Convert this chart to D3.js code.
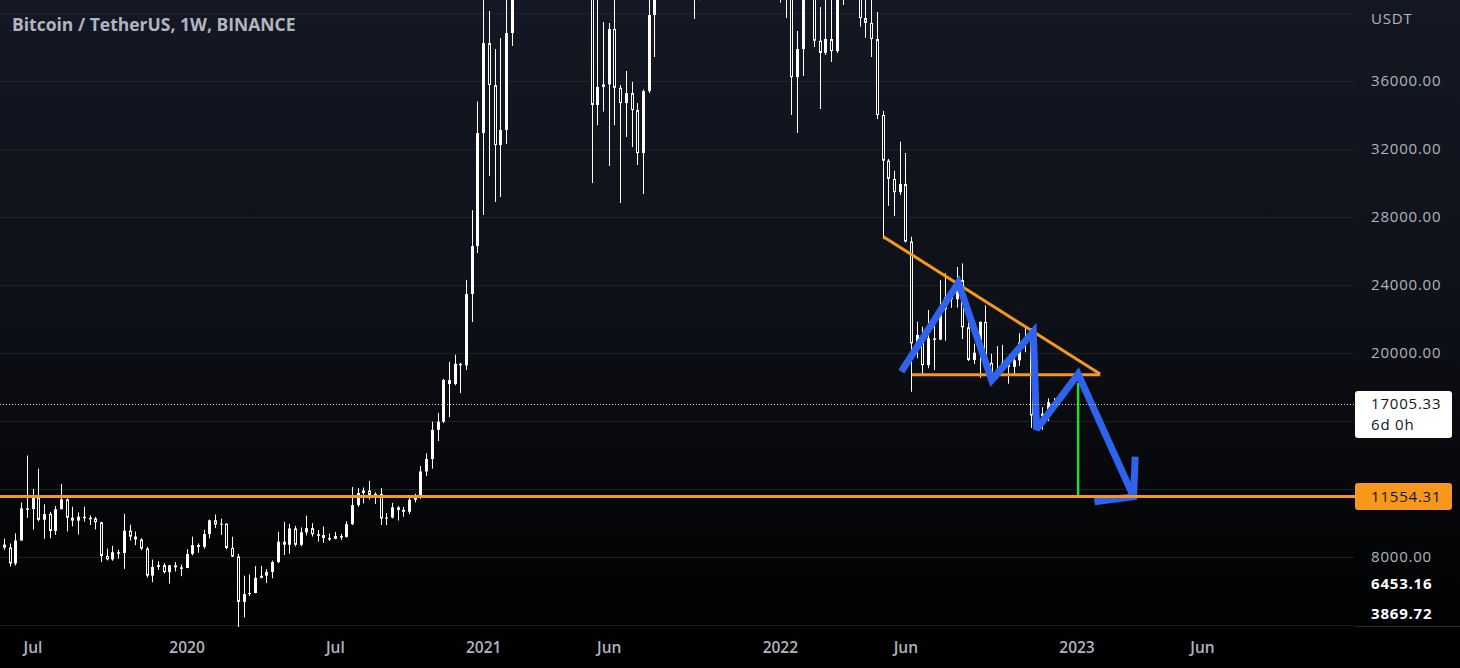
<!DOCTYPE html>
<html><head><meta charset="utf-8">
<script src="https://cdn.jsdelivr.net/npm/d3@7"></script>
<style>html,body{margin:0;padding:0;background:#000;overflow:hidden} svg{display:block}</style>
</head><body><svg id="c" width="1460" height="668"></svg>
<script>
// ---------- DATA ----------
const firstWeek = "2019-05-27";   // weekly candles, Monday open (BINANCE BTCUSDT, 1W)
const opens = [8725,8555,7620,8970,10860,10820,11480,10190,10530,9530,10810,11390,10310,10140,10370,10310,10270,10040,8060,7860,8280,8230,9550,9200,9030,8500,6900,7420,7520,7110,7510,7390,
7350,8180,8700,8600,9350,10160,9910,9960,8530,8030,5360,5820,5880,6780,6900,7120,7700,8900,8720,9680,8720,9450,9700,9340,9290,9120,9070,9230,9170,9930,11050,11760,11910,11650,11710,10260,10320,10920,10770,10660,11370,11500,13030,13760,15480,15960,18410,18180,19360,19270,23470,26290,
32940,38230,35760,32230,33120,38820,48580,57400,45140,50970,59030,57350,55780,58200,59770,56200,49070,57800,58240,46430,34590,35650,35800,39060,35600,34700,35290,34290,31760,35400,39880,43800,47080,49300,48830,51760,46060,47260,43170,48200,54960,61530,60860,61300,63270,65460,58620,57270,49400,50100,46680,50780,
47290,41860,43080,36230,37880,42400,42200,38370,37650,38470,37760,42230,46820,46400,42150,39700,39420,38470,34000,31310,30240,29460,29940,26560,20570,21060,19290,20860,20790,22570,23280,23160,24290,21510,19590,20020,21830,19420,18800,19060,19430,19180,19570,20620,20900,16330,16280,16430,17100];
const highs = [9074,8800,9390,11200,13970,12000,13200,11100,10650,11000,12300,11450,10950,10620,10950,10450,10360,10070,8500,8660,8420,10540,9900,9500,9100,8600,7850,7750,7640,7520,7700,7550,
8460,9200,8800,9600,10200,10500,10250,9970,9190,8180,6900,6970,7460,7470,7290,7790,9480,10070,9950,9830,9740,10430,9990,9590,9800,9380,9470,9350,10100,12120,12050,12090,12470,11800,12050,10580,11180,10990,10950,11490,11720,13350,14100,15960,16480,18480,19480,19900,19420,24300,28400,34800,
41950,40120,37880,38530,40950,49000,58350,57530,52640,61780,61800,58420,60200,61500,64850,57000,58450,59500,59600,46700,40900,39470,39410,41300,35760,36590,35950,34700,35500,42600,45300,47150,49500,50500,52900,52920,48850,48300,49000,56560,62000,67000,63700,64270,69000,66340,59400,59100,51950,50500,52090,52100,
47570,44500,43500,38940,42600,45850,44750,40350,45400,42600,42300,47440,48200,47200,42400,42980,40800,40060,34240,31420,30720,32430,31760,26840,21840,21550,22530,21760,24290,24690,23650,25060,25270,21840,20550,21860,22800,19960,20410,20480,19520,19700,21160,21450,21470,17190,16810,17330,17350];
const lows = [8430,7444,7500,8970,10300,9614,10100,9070,9100,9300,10800,9500,9800,9320,10080,9880,9620,7710,7800,7780,7900,7300,8970,8700,8400,6790,6515,7240,7030,6440,7150,6870,
7350,8100,8250,8500,9100,9700,9300,8450,8000,3782,4440,5700,5860,6750,6470,6750,7630,8120,8200,8630,8630,9270,9200,8900,8830,8940,9050,9000,9150,9880,10950,11150,11380,11120,9880,9880,10270,10140,10370,10530,11210,11420,12760,13200,14820,15880,16230,18100,17640,19000,21820,25880,
28120,30410,28880,29180,32300,38060,47000,43000,44950,49200,53000,50310,55450,55470,51500,47000,48750,53000,43800,30000,33400,34200,31000,33400,28820,32710,32120,31060,29350,35290,37410,42800,43950,46300,46500,42800,43370,39650,40750,47100,53880,59500,57800,59400,62300,55600,53250,42000,46800,45500,45560,45670,
40600,39700,34000,32940,36290,41600,38000,34350,37530,37120,37650,40470,44200,42100,39200,38550,37410,33760,26700,28650,28060,29290,26500,17720,19690,18700,19100,19000,20760,20720,22660,22670,20820,19530,19350,18540,19320,18130,18470,18960,18190,18650,19240,20050,15590,15815,15480,16000,16900];
const closes = [8555,7620,8970,10860,10820,11480,10190,10530,9530,10810,11390,10310,10140,10370,10310,10270,10040,8060,7860,8280,8230,9550,9200,9030,8500,6900,7420,7520,7110,7510,7390,7350,
8180,8700,8600,9350,10160,9910,9960,8530,8030,5360,5820,5880,6780,6900,7120,7700,8900,8720,9680,8720,9450,9700,9340,9290,9120,9070,9230,9170,9930,11050,11760,11910,11650,11710,10260,10320,10920,10770,10660,11370,11500,13030,13760,15480,15960,18410,18180,19360,19270,23470,26290,32940,
38230,35760,32230,33120,38820,48580,57400,45140,50970,59030,57350,55780,58200,59770,56200,49070,57800,58240,46430,34590,35650,35800,39060,35600,34700,35290,34290,31760,35400,39880,43800,47080,49300,48830,51760,46060,47260,43170,48200,54960,61530,60860,61300,63270,65460,58620,57270,49400,50100,46680,50780,47290,
41860,43080,36230,37880,42400,42200,38370,37650,38470,37760,42230,46820,46400,42150,39700,39420,38470,34000,31310,30240,29460,29940,26560,20570,21060,19290,20860,20790,22570,23280,23160,24290,21510,19590,20020,21830,19420,18800,19060,19430,19180,19570,20620,20900,16330,16280,16430,17100,17005.33];

const priceTicks = [36000, 32000, 28000, 24000, 20000, 8000];
const gridPrices = [4000, 8000, 12000, 16000, 20000, 24000, 28000, 32000, 36000, 40000];
const timeTickDates = ["2019-07-01","2020-01-06","2020-07-06","2021-01-04","2021-06-07","2022-01-03","2022-06-06","2023-01-02","2023-06-05"];
const timeTickLabels = ["Jul","2020","Jul","2021","Jun","2022","Jun","2023","Jun"];
const lastPrice = 17005.33;
const countdown = "6d 0h";
const supportLevel = 11554.31;
const rangeLabels = [6453.16, 3869.72];
const title = "Bitcoin / TetherUS, 1W, BINANCE";
const currency = "USDT";
// drawings
const trendDates = ["2022-05-10","2023-01-31"], trendPrices = [26840, 18760];
const baseDates = ["2022-06-14","2023-01-31"], basePrices = [18720, 18720];
const zigDates = ["2022-06-01","2022-08-10","2022-09-20","2022-11-10","2022-11-14","2023-01-04","2023-03-13"];
const zigPrices = [18900, 24135, 18410, 21250, 15510, 18760, 11550];
const arrowDates = ["2023-03-15","2023-03-13","2023-01-24"];
const arrowPrices = [13900, 11550, 11250];
const targetDates = ["2023-01-04","2023-01-04"], targetPrices = [18235, supportLevel];

// ---------- CHART ----------
const W = 1460, H = 668, plotR = 1354, plotB = 627;
const svg = d3.select("#c");
const P = s => new Date(s + "T00:00:00Z");
const weeks = opens.map((_, i) => d3.utcMonday.offset(P(firstWeek), i));
const x = d3.scaleUtc().domain([P("2019-05-27"), P("2023-01-02")]).range([4, 1076.5]);
const y = d3.scaleLinear().domain([0, 40000]).range([693, 13]);

const defs = svg.append("defs");
const g = defs.append("linearGradient").attr("id","bg").attr("x1",0).attr("y1",0).attr("x2",0).attr("y2",1);
g.append("stop").attr("offset","0%").attr("stop-color","#141824");
g.append("stop").attr("offset","45%").attr("stop-color","#0e1118");
g.append("stop").attr("offset","80%").attr("stop-color","#040507");
g.append("stop").attr("offset","100%").attr("stop-color","#000000");
defs.append("clipPath").attr("id","plot").append("rect").attr("x",0).attr("y",0).attr("width",plotR).attr("height",plotB);

svg.append("rect").attr("width",W).attr("height",H).attr("fill","url(#bg)");

// grid
svg.append("g").selectAll("line").data(gridPrices).join("line")
  .attr("x1",0).attr("x2",plotR).attr("y1",d=>Math.round(y(d))+0.5).attr("y2",d=>Math.round(y(d))+0.5)
  .attr("stroke","#262a36").attr("stroke-width",1).attr("stroke-opacity",0.7);

const plot = svg.append("g").attr("clip-path","url(#plot)");

// candles
const cg = plot.append("g");
opens.forEach((o, i) => {
  const c = closes[i], hi = highs[i], lo = lows[i];
  const cx = Math.round(x(weeks[i]));
  cg.append("line").attr("x1",cx+0.5).attr("x2",cx+0.5).attr("y1",y(hi)).attr("y2",y(lo))
    .attr("stroke","#ffffff").attr("stroke-width",1);
  const top = y(Math.max(o,c)), bot = y(Math.min(o,c));
  if (c >= o) {
    cg.append("rect").attr("x",cx-1).attr("y",top).attr("width",3).attr("height",Math.max(1,bot-top)).attr("fill","#ffffff");
  } else {
    cg.append("rect").attr("x",cx-0.5).attr("y",top+0.5).attr("width",2).attr("height",Math.max(0.5,bot-top-1))
      .attr("fill","#0b0d12").attr("stroke","#ffffff").attr("stroke-width",1);
  }
});

const line = d3.line().x(d=>x(P(d[0]))).y(d=>y(d[1]));
const zipD = (ds, ps) => ds.map((d,i)=>[d, ps[i]]);

// support line
svg.append("line").attr("x1",0).attr("x2",plotR+2).attr("y1",y(supportLevel)).attr("y2",y(supportLevel))
  .attr("stroke","#f7981d").attr("stroke-width",3);
// last price dotted line
svg.append("line").attr("x1",0).attr("x2",plotR+2).attr("y1",Math.round(y(lastPrice))+0.5).attr("y2",Math.round(y(lastPrice))+0.5)
  .attr("stroke","#d8d8d8").attr("stroke-width",1).attr("stroke-dasharray","1,2");

// triangle
plot.append("path").attr("d",line(zipD(trendDates,trendPrices))).attr("stroke","#f7981d").attr("stroke-width",3).attr("fill","none");
plot.append("path").attr("d",line(zipD(baseDates,basePrices))).attr("stroke","#f7981d").attr("stroke-width",3).attr("fill","none");
// target vertical
plot.append("path").attr("d",line(zipD(targetDates,targetPrices))).attr("stroke","#1ee01e").attr("stroke-width",2.5).attr("fill","none");
// zigzag
plot.append("path").attr("d",line(zipD(zigDates,zigPrices))).attr("stroke","#2f63ee").attr("stroke-width",7)
  .attr("fill","none").attr("stroke-linejoin","miter").attr("stroke-miterlimit",3);
plot.append("path").attr("d",line(zipD(arrowDates,arrowPrices))).attr("stroke","#2f63ee").attr("stroke-width",7)
  .attr("fill","none").attr("stroke-linejoin","miter").attr("stroke-miterlimit",4);

// price axis
const font = "'Open Sans', 'Noto Sans', sans-serif";
const ax = svg.append("g").attr("transform",`translate(1371,0)`)
  .call(d3.axisRight(y).tickValues(priceTicks).tickSize(0).tickPadding(0).tickFormat(d3.format(".2f")));
ax.select(".domain").remove();
ax.selectAll("text").attr("fill","#b2b5be").attr("font-family",font).attr("font-size",15).attr("letter-spacing","0.8px");
svg.append("text").attr("x",1371).attr("y",y(0)-693+19).attr("dy","0.35em").text(currency)
  .attr("fill","#b2b5be").attr("font-family",font).attr("font-size",15).attr("letter-spacing","0.8px");
// range labels (bold white)
const rl = [584, 614];
rangeLabels.forEach((v,i)=>{
  svg.append("text").attr("x",1371).attr("y",rl[i]).attr("dy","0.35em").text(d3.format(".2f")(v))
    .attr("fill","#ffffff").attr("font-weight",700).attr("font-family",font).attr("font-size",15).attr("letter-spacing","0.8px");
});
svg.append("line").attr("x1",1355).attr("x2",1460).attr("y1",626.5).attr("y2",626.5).attr("stroke","#2a2e39");

// last price label
svg.append("rect").attr("x",1355).attr("y",391).attr("width",97).attr("height",47).attr("rx",3).attr("fill","#ffffff");
svg.append("text").attr("x",1371).attr("y",404).attr("dy","0.35em").text(d3.format(".2f")(lastPrice))
  .attr("fill","#131722").attr("font-family",font).attr("font-size",15).attr("letter-spacing","0.8px");
svg.append("text").attr("x",1371).attr("y",425).attr("dy","0.35em").text(countdown)
  .attr("fill","#131722").attr("font-family",font).attr("font-size",15).attr("letter-spacing","0.8px");
// support label
svg.append("rect").attr("x",1355).attr("y",y(supportLevel)-13.5).attr("width",97).attr("height",27).attr("rx",3).attr("fill","#f7981d");
svg.append("text").attr("x",1371).attr("y",y(supportLevel)).attr("dy","0.35em").text(d3.format(".2f")(supportLevel))
  .attr("fill","#131722").attr("font-family",font).attr("font-size",15).attr("letter-spacing","0.8px");

// time axis
const tx = svg.append("g").attr("transform",`translate(0,640)`)
  .call(d3.axisBottom(x).tickValues(timeTickDates.map(P)).tickSize(0).tickPadding(0)
    .tickFormat((d,i)=>timeTickLabels[i]));
tx.select(".domain").remove();
tx.selectAll("text").attr("fill","#b2b5be").attr("font-family",font).attr("font-size",15.5).attr("font-weight",600).attr("dy","0.3em").attr("y",8);

// title
svg.append("text").attr("x",12).attr("y",25).attr("dy","0.35em").text(title)
  .attr("fill","#b2b5be").attr("font-family",font).attr("font-weight",700).attr("font-size",17.5);
</script></body></html>
